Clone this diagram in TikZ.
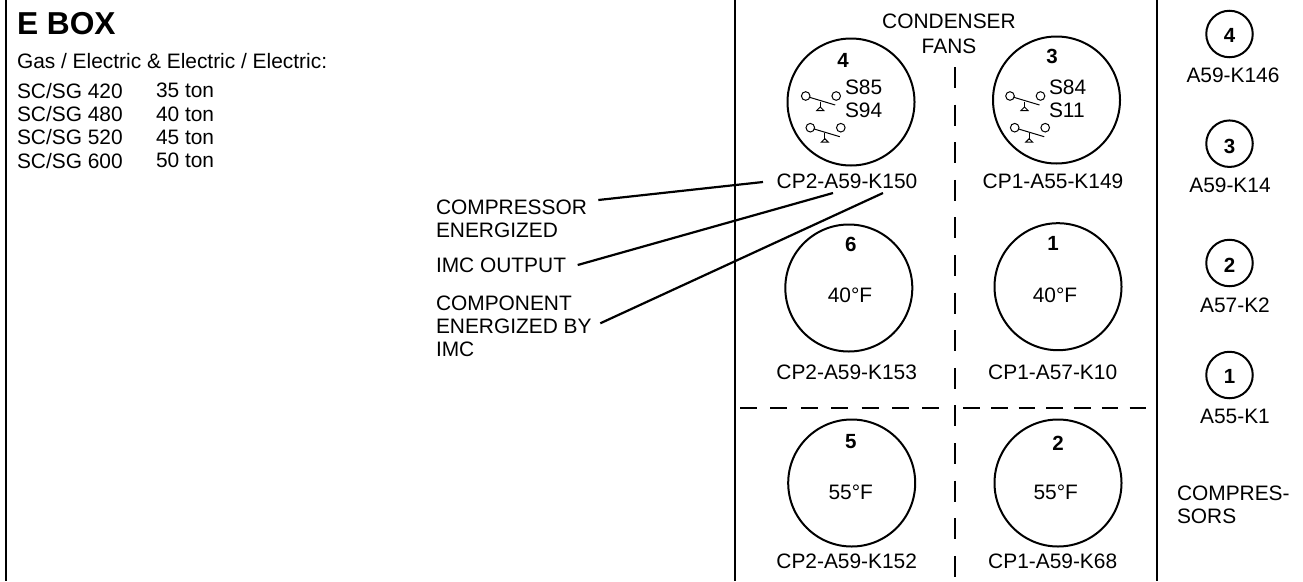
\documentclass[tikz,border=0pt]{standalone}
\usepackage{fontspec}
\setmainfont{Liberation Sans}
\begin{document}
\begin{tikzpicture}[x=1pt,y=-1pt,
  every node/.style={inner sep=0pt,outer sep=0pt,font=\fontsize{20.9}{23.2}\selectfont},
  txt/.style={align=left,anchor=north west},
  ctr/.style={anchor=base},
  num/.style={anchor=base,font=\bfseries\fontsize{20.5}{23}\selectfont},
  wall/.style={line width=2.2pt,black},
  sep/.style={line width=2.2pt,dash pattern=on 21pt off 16.6pt},
  sepl/.style={line width=2.2pt,dash pattern=on 17pt off 13.4pt},
  sepr/.style={line width=2.2pt,dash pattern=on 16.5pt off 11.2pt},
  big/.style={circle,draw,line width=2pt,minimum size=127pt},
  small/.style={circle,draw,line width=2pt,minimum size=46.5pt},
  leader/.style={line width=2.2pt},
  sw/.pic={
    \draw[line width=1pt] (0,0) circle (4.3);
    \draw[line width=1pt] (30.5,0) circle (4.3);
    \draw[line width=1pt] (3.5,1.2) -- (29.5,9);
    \draw[line width=1pt] (14.5,5.5) -- (14.5,12);
    \draw[line width=1pt] (11,14.5) -- (18,14.5) -- (14.5,11) -- cycle;
  }]
\useasboundingbox (0,0) rectangle (1303,581);
\fill[white] (0,0) rectangle (1303,581);
\draw[wall] (6,0) -- (6,581);
\draw[wall] (735.3,0) -- (735.3,581);
\draw[wall] (1157,0) -- (1157,581);
\draw[sep] (954.7,67) -- (954.7,581);
\draw[sepl] (740,407.7) -- (941,407.7);
\draw[sepr] (963.3,407.7) -- (1146,407.7);

\node[anchor=base west,font=\bfseries\fontsize{31.7}{34}\selectfont] (title) at (17,34) {E BOX};
\node[anchor=base west] (sub) at (17,68) {Gas / Electric \& Electric / Electric:};
\node[txt] (models) at (17,83.4) {SC/SG 420\\SC/SG 480\\SC/SG 520\\SC/SG 600};
\node[txt] (tons) at (156,83.4) {\vphantom{S}35 ton\\40 ton\\45 ton\\50 ton};

\node[txt] (lcomp) at (436,199.7) {COMPRESSOR\\ENERGIZED};
\node[txt] (limc) at (436,257.7) {IMC OUTPUT};
\node[txt] (lcomd) at (436,295.7) {COMPONENT\\ENERGIZED BY\\IMC};

\node[align=center,anchor=north] (cond) at (949,14) {CONDENSER\\[1.5pt]FANS};

\node[big] (f4) at (851,102) {};
\node[big] (f3) at (1056.5,100) {};
\node[big] (f6) at (848.8,288) {};
\node[big] (f1) at (1058,286.7) {};
\node[big] (f5) at (851.7,483) {};
\node[big] (f2) at (1058,483) {};

\node[num] (n4) at (843,67) {4};
\node[num] (n3) at (1052,63) {3};
\node[num] (n6) at (850.7,251.7) {6};
\node[num] (n1) at (1053,250) {1};
\node[num] (n5) at (850.7,448) {5};
\node[num] (n2) at (1058,450.5) {2};

\node[txt] (s4) at (845,79.7) {S85\\S94};
\node[txt] (s3) at (1049,79.7) {S84\\S11};
\pic at (805.7,96) {sw};
\pic at (810.3,127.7) {sw};
\pic at (1010,96) {sw};
\pic at (1014.7,127.7) {sw};

\node[ctr] (t6) at (850,302) {40°F};
\node[ctr] (t1) at (1055,302) {40°F};
\node[ctr] (t5) at (850.7,499) {55°F};
\node[ctr] (t2) at (1055.7,499) {55°F};

\node[ctr] (k150) at (847,188) {CP2-A59-K150};
\node[ctr] (k149) at (1053,188) {CP1-A55-K149};
\node[ctr] (k153) at (846.7,379) {CP2-A59-K153};
\node[ctr] (k10) at (1052.7,379) {CP1-A57-K10};
\node[ctr] (k152) at (846.7,568) {CP2-A59-K152};
\node[ctr] (k68) at (1052.7,568) {CP1-A59-K68};

\node[small] (c4) at (1229.5,34) {};
\node[small] (c3) at (1229.5,143.7) {};
\node[small] (c2) at (1229.5,263) {};
\node[small] (c1) at (1229.5,375) {};
\node[num,anchor=center] (m4) at (1229.5,35.7) {4};
\node[num,anchor=center] (m3) at (1229.5,146) {3};
\node[num,anchor=center] (m2) at (1229.5,265.7) {2};
\node[num,anchor=center] (m1) at (1229.5,376.5) {1};
\node[ctr] (a146) at (1233,82) {A59-K146};
\node[ctr] (a14) at (1230,192) {A59-K14};
\node[ctr] (a2) at (1235,312) {A57-K2};
\node[ctr] (a1) at (1235,423) {A55-K1};
\node[txt] (cmp) at (1177,485.7) {COMPRES-\\SORS};

\coordinate (p1s) at (598.3,200);
\coordinate (p1e) at (763,182);
\coordinate (p2s) at (577.7,265);
\coordinate (p2e) at (833,193);
\coordinate (p3s) at (600.3,323.3);
\coordinate (p3e) at (883,193);
\draw[leader] (p1s) -- (p1e);
\draw[leader] (p2s) -- (p2e);
\draw[leader] (p3s) -- (p3e);
\end{tikzpicture}
\end{document}
